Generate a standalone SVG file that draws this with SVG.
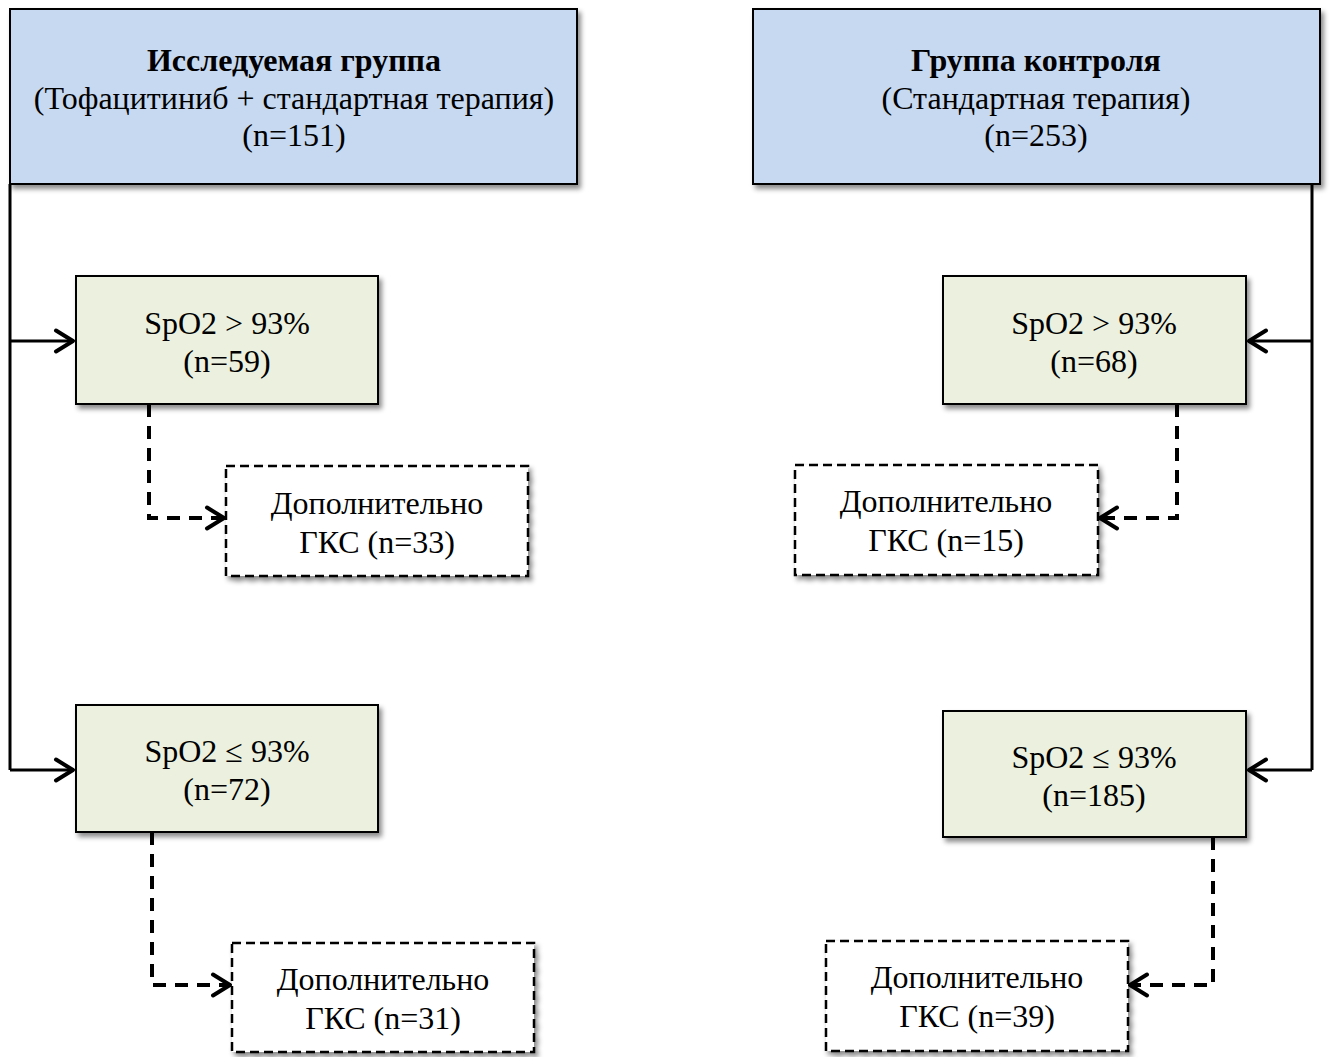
<svg xmlns="http://www.w3.org/2000/svg" width="1330" height="1057" viewBox="0 0 1330 1057">
<defs>
<filter id="sh" x="-10%" y="-10%" width="130%" height="140%">
<feDropShadow dx="3" dy="4" stdDeviation="2.5" flood-color="#000" flood-opacity="0.45"/>
</filter>
<marker id="ar" viewBox="0 0 26 26" refX="23" refY="13" markerWidth="26" markerHeight="26" markerUnits="userSpaceOnUse" orient="auto">
<path d="M5,2.5 L22,13 L5,23.5" fill="none" stroke="#000" stroke-width="4" stroke-linecap="round" stroke-linejoin="round"/>
</marker>
</defs>
<style>
.t{font-family:"Liberation Serif","Times New Roman",serif;font-size:32px;fill:#000;text-anchor:middle}
.b{font-weight:bold}
.blue{fill:#C6D9F1;stroke:#000;stroke-width:2}
.green{fill:#EBF1DE;stroke:#000;stroke-width:2}
.dash{fill:#fff;stroke:#000;stroke-width:2.5;stroke-dasharray:9,5}
.c{fill:none;stroke:#000;stroke-width:3}
.cd{fill:none;stroke:#000;stroke-width:4;stroke-dasharray:13,9}
</style>
<g id="connectors">
<path class="c" d="M10,184 V770"/>
<path class="c" d="M10,341 H74" marker-end="url(#ar)"/>
<path class="c" d="M10,770 H74" marker-end="url(#ar)"/>
<path class="c" d="M1312,184 V770"/>
<path class="c" d="M1312,341 H1248" marker-end="url(#ar)"/>
<path class="c" d="M1312,770 H1248" marker-end="url(#ar)"/>
<path class="cd" d="M149,404 V518 H225" marker-end="url(#ar)"/>
<path class="cd" d="M152,832 V985 H231" marker-end="url(#ar)"/>
<path class="cd" d="M1177,404 V518 H1099" marker-end="url(#ar)"/>
<path class="cd" d="M1213,837 V985 H1129" marker-end="url(#ar)"/>
</g>
<g id="study">
<rect class="blue" x="10" y="9" width="567" height="175" filter="url(#sh)"/>
<text class="t b" x="294" y="71">Исследуемая группа</text>
<text class="t" x="294" y="109">(Тофацитиниб + стандартная терапия)</text>
<text class="t" x="294" y="146">(n=151)</text>
</g>
<g id="control">
<rect class="blue" x="753" y="9" width="567" height="175" filter="url(#sh)"/>
<text class="t b" x="1036" y="71">Группа контроля</text>
<text class="t" x="1036" y="109">(Стандартная терапия)</text>
<text class="t" x="1036" y="146">(n=253)</text>
</g>
<g id="s_hi">
<rect class="green" x="76" y="276" width="302" height="128" filter="url(#sh)"/>
<text class="t" x="227" y="334">SpO2 &gt; 93%</text>
<text class="t" x="227" y="372">(n=59)</text>
</g>
<g id="s_lo">
<rect class="green" x="76" y="705" width="302" height="127" filter="url(#sh)"/>
<text class="t" x="227" y="762">SpO2 ≤ 93%</text>
<text class="t" x="227" y="800">(n=72)</text>
</g>
<g id="c_hi">
<rect class="green" x="943" y="276" width="303" height="128" filter="url(#sh)"/>
<text class="t" x="1094" y="334">SpO2 &gt; 93%</text>
<text class="t" x="1094" y="372">(n=68)</text>
</g>
<g id="c_lo">
<rect class="green" x="943" y="711" width="303" height="126" filter="url(#sh)"/>
<text class="t" x="1094" y="768">SpO2 ≤ 93%</text>
<text class="t" x="1094" y="806">(n=185)</text>
</g>
<g id="s_hi_gks">
<rect class="dash" x="226" y="466" width="302" height="110" filter="url(#sh)"/>
<text class="t" x="377" y="514">Дополнительно</text>
<text class="t" x="377" y="553">ГКС (n=33)</text>
</g>
<g id="s_lo_gks">
<rect class="dash" x="232" y="943" width="302" height="109" filter="url(#sh)"/>
<text class="t" x="383" y="990">Дополнительно</text>
<text class="t" x="383" y="1029">ГКС (n=31)</text>
</g>
<g id="c_hi_gks">
<rect class="dash" x="795" y="465" width="303" height="110" filter="url(#sh)"/>
<text class="t" x="946" y="512">Дополнительно</text>
<text class="t" x="946" y="551">ГКС (n=15)</text>
</g>
<g id="c_lo_gks">
<rect class="dash" x="826" y="941" width="302" height="110" filter="url(#sh)"/>
<text class="t" x="977" y="988">Дополнительно</text>
<text class="t" x="977" y="1027">ГКС (n=39)</text>
</g>
</svg>
